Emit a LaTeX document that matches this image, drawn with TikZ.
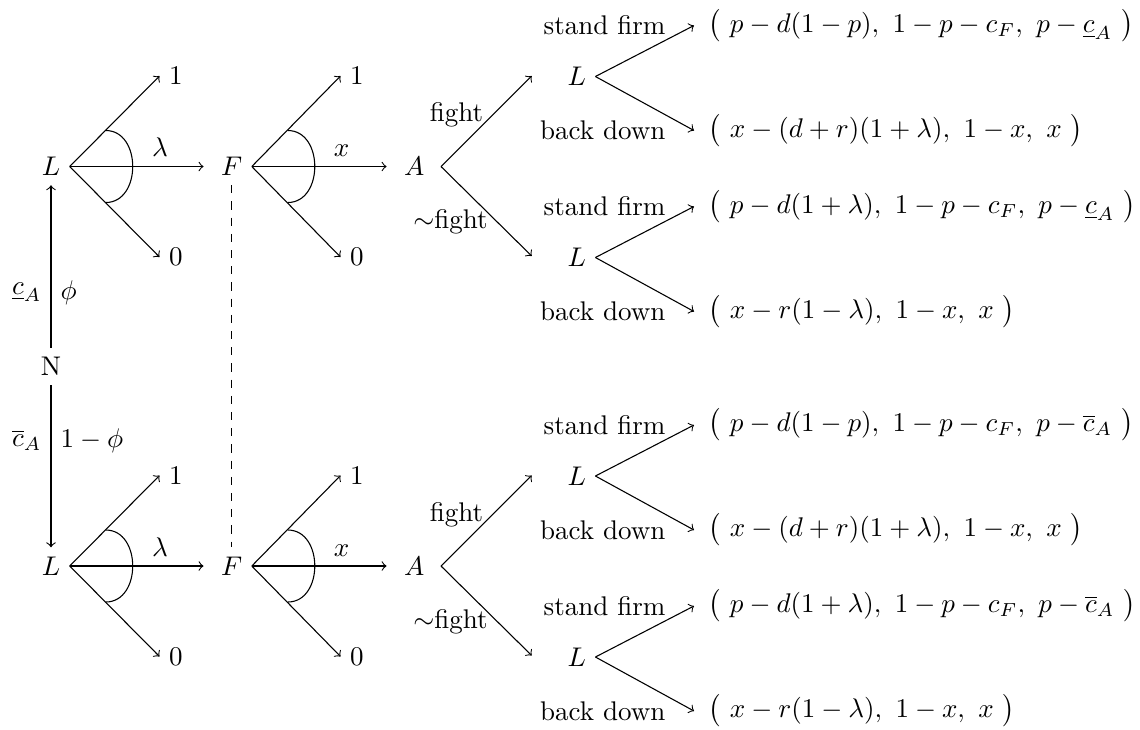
\documentclass[tikz,border=0pt]{standalone}
\usetikzlibrary{calc}
\tikzset{
  arr/.style={->},
  short/.style={->, shorten >=3pt},
  lblnode/.style={anchor=east},
  paynode/.style={anchor=west, inner sep=1pt},
  endnode/.style={anchor=west},
}
% #1 suffix, #2 vertical offset (px), #3 symbol for c_A
\newcommand{\mygame}[3]{%
  \node (L#1) at (51,{166.5+#2}) {$L$};
  \node[endnode] (oa#1) at (159.5,{76+#2}) {$1$};
  \node[endnode] (za#1) at (159.5,{257+#2}) {$0$};
  \draw[arr] (L#1.east) -- (oa#1.west);
  \draw[arr] (L#1.east) -- (za#1.west);
  \draw ($(L#1.east)+(36,-36)$) .. controls +(36,0) and +(36,0) .. ($(L#1.east)+(36,36)$);
  \node (F#1) at (231.7,{166.5+#2}) {$F$};
  \draw[short] (L#1) -- (F#1);
  \node[above] (lam#1) at (160,{166.5+#2}) {$\lambda$};
  \node[endnode] (ob#1) at (340.5,{76+#2}) {$1$};
  \node[endnode] (zb#1) at (340.5,{257+#2}) {$0$};
  \draw[arr] (F#1.east) -- (ob#1.west);
  \draw[arr] (F#1.east) -- (zb#1.west);
  \draw ($(F#1.east)+(36,-36)$) .. controls +(36,0) and +(36,0) .. ($(F#1.east)+(36,36)$);
  \node[above] (xl#1) at (341.7,{166.5+#2}) {$x$};
  \node (A#1) at (414.3,{166.5+#2}) {$A$};
  \draw[short] (F#1) -- (A#1);
  \coordinate (av#1) at (441,{166.5+#2});
  \coordinate (tu#1) at (531.7,{76+#2});
  \coordinate (td#1) at (531.7,{256+#2});
  \draw[arr] (av#1) -- (tu#1) node[pos=0.57,left] (fu#1) {fight};
  \draw[arr] (av#1) -- (td#1) node[pos=0.62,left] (fd#1) {$\sim$fight};
  \node (LU#1) at (576.7,{76.5+#2}) {$L$};
  \node (LD#1) at (576.7,{257.5+#2}) {$L$};
  % upper L
  \coordinate (s1#1) at (694,{25.5+#2});
  \coordinate (b1#1) at (694,{130.5+#2});
  \draw[arr] (LU#1.east) -- (s1#1);
  \draw[arr] (LU#1.east) -- (b1#1);
  \node[lblnode] (ls1#1) at (675,{25.5+#2}) {stand firm};
  \node[lblnode] (lb1#1) at (675,{130.5+#2}) {back down};
  \node[paynode] (p1#1) at (705.3,{25.5+#2}) {$\big(\ p-d(1-p),\ 1-p-c_F,\ p-#3\ \big)$};
  \node[paynode] (p2#1) at (705.3,{130.5+#2}) {$\big(\ x-(d+r)(1+\lambda),\ 1-x,\ x\ \big)$};
  % lower L
  \coordinate (s2#1) at (694,{206.5+#2});
  \coordinate (b2#1) at (694,{311.5+#2});
  \draw[arr] (LD#1.east) -- (s2#1);
  \draw[arr] (LD#1.east) -- (b2#1);
  \node[lblnode] (ls2#1) at (675,{206.5+#2}) {stand firm};
  \node[lblnode] (lb2#1) at (675,{311.5+#2}) {back down};
  \node[paynode] (p3#1) at (705.3,{206.5+#2}) {$\big(\ p-d(1+\lambda),\ 1-p-c_F,\ p-#3\ \big)$};
  \node[paynode] (p4#1) at (705.3,{311.5+#2}) {$\big(\ x-r(1-\lambda),\ 1-x,\ x\ \big)$};
}
\begin{document}
\begin{tikzpicture}[x=0.37037pt, y=-0.37037pt]
  \useasboundingbox (0,0) rectangle (1140,729);
  \mygame{T}{0}{\underline{c}_A}
  \mygame{B}{399.5}{\overline{c}_A}
  \node (N) at (51,366.5) {N};
  \draw[arr] (N) -- (LT) node[pos=0.34,left] (cu) {$\underline{c}_A$} node[pos=0.34,right] (phi) {$\phi$};
  \draw[arr] (N) -- (LB) node[pos=0.34,left] (co) {$\overline{c}_A$} node[pos=0.34,right] (phib) {$1-\phi$};
  \draw[dashed] (FT) -- (FB);
\end{tikzpicture}
\end{document}
